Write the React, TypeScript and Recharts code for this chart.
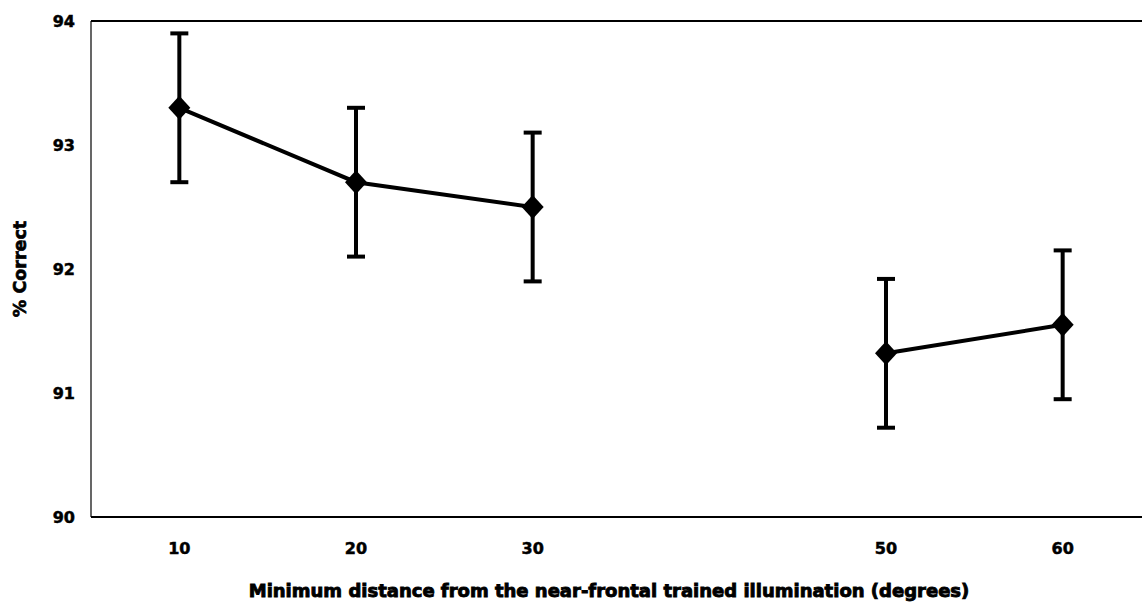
import React from 'react';
import {
  LineChart,
  Line,
  XAxis,
  YAxis,
  ErrorBar,
  ReferenceLine,
  Label,
} from 'recharts';

// Minimum angular distance (degrees) and recognition accuracy
const distances = [10, 20, 30, 50, 60];
const percentCorrect = [93.3, 92.7, 92.5, 91.32, 91.55];
const errorMargin = [0.6, 0.6, 0.6, 0.6, 0.6];
const xTicks = [10, 20, 30, 50, 60];
const yTicks = [90, 91, 92, 93, 94];

// 40° was not tested, so the line breaks between 30 and 50
const nearGroup = [10, 20, 30];
const farGroup = [50, 60];

const rows = distances.map((d, i) => ({
  distance: d,
  correct: percentCorrect[i],
  err: errorMargin[i],
}));
const nearRows = rows.filter(r => nearGroup.includes(r.distance));
const farRows = rows.filter(r => farGroup.includes(r.distance));

const FONT = '"DejaVu Sans", Arial, sans-serif';
const tickStyle = {
  fill: '#000',
  fontSize: 16,
  fontWeight: 700,
  fontFamily: FONT,
  stroke: '#000',
  strokeWidth: 0.5,
};

const Diamond = (props: any) => {
  const { cx, cy, index } = props;
  if (cx == null || cy == null) return null;
  return (
    <path
      key={`d-${index}-${cx}`}
      d={`M${cx},${cy - 12} L${cx + 11},${cy} L${cx},${cy + 12} L${cx - 11},${cy} Z`}
      fill="#000"
    />
  );
};

export default function App() {
  // fixed box: the plot runs past the right edge without adding scrollbars
  return (
    <div
      style={{
        position: 'fixed',
        left: 8,
        top: 8,
        width: 1134,
        height: 596,
        overflow: 'hidden',
        background: '#fff',
      }}
    >
      <LineChart
        width={1160}
        height={596}
        margin={{ top: 13, right: 17, left: 0, bottom: 47 }}
      >
        <XAxis
          dataKey="distance"
          type="number"
          domain={[5, 65]}
          ticks={xTicks}
          allowDuplicatedCategory={false}
          height={40}
          tickLine={false}
          tickSize={0}
          tickMargin={26}
          axisLine={{ stroke: '#000', strokeWidth: 2 }}
          tick={tickStyle}
        >
          <Label
            value="Minimum distance from the near-frontal trained illumination (degrees)"
            position="bottom"
            offset={27}
            dx={-12}
            style={{ fill: '#000', fontSize: 18, fontWeight: 700, fontFamily: FONT, stroke: '#000', strokeWidth: 0.9 }}
          />
        </XAxis>
        <YAxis
          type="number"
          domain={[90, 94]}
          ticks={yTicks}
          width={83}
          tickLine={false}
          tickSize={0}
          tickMargin={16}
          axisLine={{ stroke: '#000', strokeWidth: 1.2 }}
          tick={tickStyle}
        >
          <Label
            value="% Correct"
            angle={-90}
            position="insideLeft"
            offset={12}
            style={{ textAnchor: 'middle', fill: '#000', fontSize: 17.5, fontWeight: 700, fontFamily: FONT, stroke: '#000', strokeWidth: 0.7 }}
          />
        </YAxis>
        <ReferenceLine y={94} stroke="#000" strokeWidth={2} />
        <Line
          data={nearRows}
          dataKey="correct"
          stroke="#000"
          strokeWidth={4}
          dot={<Diamond />}
          activeDot={false}
          isAnimationActive={false}
        >
          <ErrorBar dataKey="err" width={9} strokeWidth={4} stroke="#000" direction="y" />
        </Line>
        <Line
          data={farRows}
          dataKey="correct"
          stroke="#000"
          strokeWidth={4}
          dot={<Diamond />}
          activeDot={false}
          isAnimationActive={false}
        >
          <ErrorBar dataKey="err" width={9} strokeWidth={4} stroke="#000" direction="y" />
        </Line>
      </LineChart>
    </div>
  );
}
